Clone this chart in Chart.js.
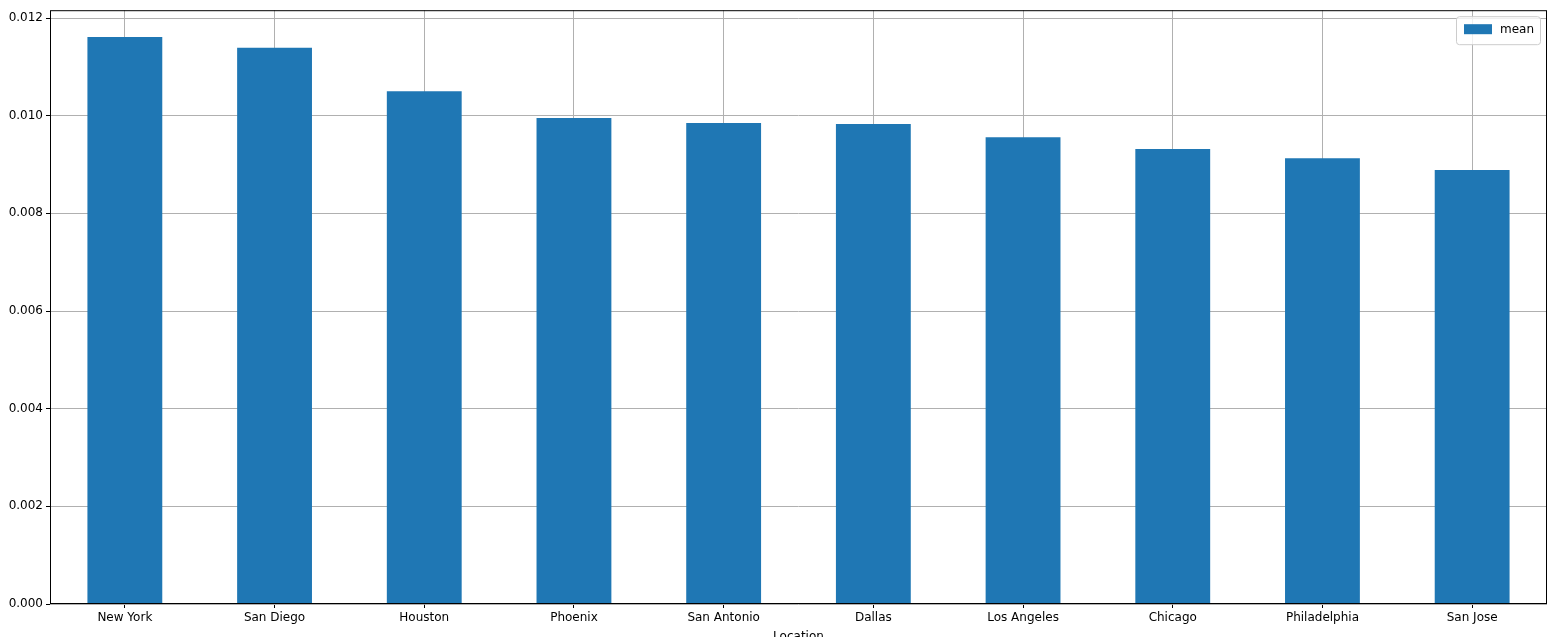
<!DOCTYPE html>
<html><head><meta charset="utf-8">
<script src="https://cdn.jsdelivr.net/npm/chart.js@4"></script>
<style>html,body{margin:0;padding:0;background:#fff}#w{width:1560px;height:637px}</style>
</head><body><div id="w"><canvas id="c"></canvas></div>
<script>
const categories = ["New York","San Diego","Houston","Phoenix","San Antonio","Dallas","Los Angeles","Chicago","Philadelphia","San Jose"];
const meanValues = [0.01161,0.01139,0.01050,0.00995,0.00985,0.00983,0.00956,0.00932,0.00913,0.00889];
const yTicks = [0,0.002,0.004,0.006,0.008,0.010,0.012];
const FONT = "'DejaVu Sans', sans-serif";
const blue = '#1f77b4';
const extras = {
  id:'extras',
  afterDraw(ch){
    const c=ch.ctx, a=ch.chartArea;
    c.save();
    c.strokeStyle='#000'; c.lineWidth=1;
    c.strokeRect(a.left+0.5,a.top+0.5,a.right-a.left-1,a.bottom-a.top-1);
    // legend
    const bx=a.right-91, by=a.top+6, bw=84, bh=28;
    c.fillStyle='rgba(255,255,255,0.8)'; c.strokeStyle='#ccc';
    c.beginPath(); c.roundRect(bx+0.5,by+0.5,bw,bh,3); c.fill(); c.stroke();
    c.fillStyle=blue; c.fillRect(bx+8,by+8,28,10);
    c.fillStyle='#000'; c.font='12px '+FONT; c.textBaseline='middle'; c.textAlign='left';
    c.fillText('mean',bx+44,by+14);
    c.textAlign='center'; c.textBaseline='top'; c.font='12px '+FONT;
    c.fillText('Location',(a.left+a.right)/2,631);
    c.restore();
  }
};
new Chart(document.getElementById('c'),{
  type:'bar',
  data:{labels:categories,datasets:[{label:'mean',data:meanValues,backgroundColor:blue,barPercentage:0.5,categoryPercentage:1}]},
  options:{
    responsive:true,maintainAspectRatio:false,animation:false,
    layout:{padding:{top:10,right:13,left:0,bottom:0}},
    plugins:{legend:{display:false},tooltip:{enabled:false}},
    scales:{
      x:{grid:{offset:false,color:'#b0b0b0',drawTicks:true,tickLength:4,tickColor:'#000'},border:{display:false},
         ticks:{color:'#000',font:{family:FONT,size:12},maxRotation:0,padding:3},
         afterFit(s){s.height=33;}},
      y:{min:0,max:0.01216,afterBuildTicks(s){s.ticks=yTicks.map(v=>({value:v}));},
         grid:{color:'#b0b0b0',tickLength:4,tickColor:'#000'},border:{display:false},
         ticks:{color:'#000',font:{family:FONT,size:12},padding:3,callback:v=>v.toFixed(3)},
         afterFit(s){s.width=50;}}
    }
  },
  plugins:[extras]
});
</script></body></html>
